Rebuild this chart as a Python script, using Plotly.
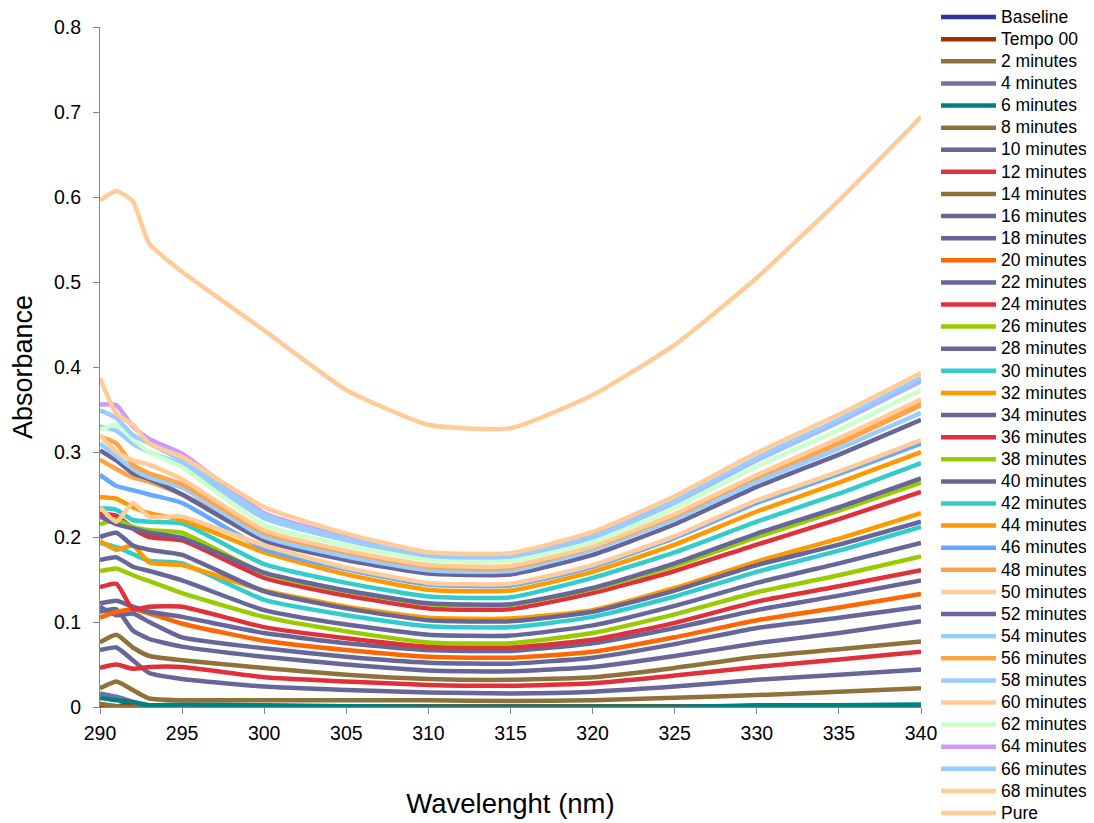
import plotly.graph_objects as go

wavelength = [290, 291, 292, 293, 295, 300, 305, 310, 315, 320, 325, 330, 335, 340]

baseline = [0, 0, 0, 0, 0, 0, 0, 0, 0, 0, 0, 0, 0, 0]
tempo_00 = [0.003, 0.001, 0.004, 0.002, 0.002, 0.001, 0.001, 0.001, 0.001, 0.001, 0.001, 0.001, 0.001, 0.001]
min_02 = [0.004, 0.001, 0.0, 0.002, 0.001, 0.0, 0.0, 0.0, 0.0, 0.0, 0.0, 0.0, 0.0, 0.0]
min_04 = [0.016, 0.012, 0.006, 0.001, 0.0, 0.0, 0.0, 0.0, 0.0, 0.0, 0.0, 0.0, 0.0, 0.0]
min_06 = [0.011, 0.008, 0.006, 0.002, 0.003, 0.002, 0.001, 0.0, 0.0, 0.0, 0.0, 0.002, 0.002, 0.003]
min_08 = [0.022, 0.030, 0.020, 0.010, 0.008, 0.008, 0.008, 0.008, 0.007, 0.008, 0.011, 0.014, 0.018, 0.022]
min_10 = [0.067, 0.070, 0.055, 0.040, 0.033, 0.024, 0.020, 0.017, 0.016, 0.018, 0.024, 0.032, 0.038, 0.044]
min_12 = [0.046, 0.050, 0.045, 0.047, 0.047, 0.035, 0.030, 0.026, 0.025, 0.028, 0.037, 0.047, 0.056, 0.065]
min_14 = [0.076, 0.085, 0.070, 0.060, 0.055, 0.046, 0.038, 0.033, 0.032, 0.035, 0.046, 0.059, 0.068, 0.077]
min_16 = [0.112, 0.115, 0.090, 0.080, 0.071, 0.059, 0.050, 0.043, 0.042, 0.047, 0.060, 0.075, 0.087, 0.101]
min_18 = [0.118, 0.108, 0.110, 0.100, 0.082, 0.069, 0.059, 0.052, 0.051, 0.058, 0.074, 0.093, 0.105, 0.118]
min_20 = [0.105, 0.112, 0.115, 0.110, 0.098, 0.078, 0.067, 0.059, 0.058, 0.065, 0.082, 0.102, 0.117, 0.133]
min_22 = [0.122, 0.125, 0.118, 0.112, 0.106, 0.087, 0.075, 0.067, 0.066, 0.075, 0.093, 0.114, 0.131, 0.149]
min_24 = [0.141, 0.145, 0.115, 0.118, 0.118, 0.094, 0.081, 0.071, 0.070, 0.079, 0.099, 0.124, 0.142, 0.161]
min_26 = [0.160, 0.163, 0.155, 0.148, 0.134, 0.106, 0.089, 0.076, 0.075, 0.087, 0.109, 0.135, 0.155, 0.177]
min_28 = [0.173, 0.176, 0.165, 0.160, 0.149, 0.114, 0.097, 0.085, 0.084, 0.096, 0.119, 0.146, 0.169, 0.193]
min_30 = [0.193, 0.188, 0.180, 0.172, 0.169, 0.126, 0.108, 0.095, 0.094, 0.106, 0.130, 0.159, 0.184, 0.212]
min_32 = [0.195, 0.185, 0.190, 0.170, 0.167, 0.137, 0.118, 0.105, 0.104, 0.114, 0.140, 0.171, 0.198, 0.228]
min_34 = [0.200, 0.205, 0.190, 0.185, 0.179, 0.136, 0.116, 0.102, 0.101, 0.112, 0.137, 0.167, 0.191, 0.218]
min_36 = [0.227, 0.225, 0.210, 0.200, 0.196, 0.152, 0.131, 0.116, 0.115, 0.134, 0.160, 0.191, 0.221, 0.253]
min_38 = [0.215, 0.220, 0.212, 0.208, 0.205, 0.157, 0.136, 0.121, 0.120, 0.139, 0.166, 0.200, 0.231, 0.264]
min_40 = [0.224, 0.215, 0.210, 0.205, 0.199, 0.158, 0.137, 0.122, 0.121, 0.140, 0.169, 0.204, 0.235, 0.269]
min_42 = [0.234, 0.232, 0.220, 0.218, 0.216, 0.168, 0.146, 0.130, 0.129, 0.152, 0.182, 0.218, 0.251, 0.287]
min_44 = [0.247, 0.245, 0.235, 0.228, 0.220, 0.182, 0.156, 0.138, 0.137, 0.159, 0.191, 0.230, 0.264, 0.300]
min_46 = [0.273, 0.260, 0.255, 0.250, 0.240, 0.186, 0.162, 0.144, 0.143, 0.165, 0.199, 0.240, 0.274, 0.310]
min_48 = [0.291, 0.280, 0.270, 0.265, 0.250, 0.203, 0.180, 0.164, 0.163, 0.187, 0.224, 0.269, 0.310, 0.355]
min_50 = [0.235, 0.218, 0.240, 0.224, 0.224, 0.190, 0.164, 0.146, 0.145, 0.167, 0.201, 0.243, 0.277, 0.314]
min_52 = [0.302, 0.290, 0.275, 0.268, 0.250, 0.196, 0.173, 0.157, 0.156, 0.179, 0.215, 0.259, 0.297, 0.338]
min_54 = [0.310, 0.295, 0.280, 0.270, 0.258, 0.200, 0.177, 0.161, 0.160, 0.185, 0.221, 0.265, 0.304, 0.346]
min_56 = [0.318, 0.310, 0.285, 0.275, 0.262, 0.205, 0.182, 0.165, 0.164, 0.188, 0.225, 0.271, 0.312, 0.357]
min_58 = [0.330, 0.325, 0.310, 0.300, 0.285, 0.222, 0.196, 0.177, 0.176, 0.199, 0.240, 0.290, 0.335, 0.383]
min_60 = [0.320, 0.300, 0.290, 0.285, 0.268, 0.208, 0.184, 0.167, 0.166, 0.189, 0.227, 0.273, 0.316, 0.362]
min_62 = [0.326, 0.332, 0.315, 0.300, 0.282, 0.214, 0.190, 0.173, 0.172, 0.194, 0.234, 0.283, 0.326, 0.373]
min_64 = [0.356, 0.355, 0.330, 0.315, 0.298, 0.228, 0.200, 0.179, 0.178, 0.201, 0.242, 0.292, 0.337, 0.385]
min_66 = [0.349, 0.340, 0.320, 0.310, 0.290, 0.226, 0.198, 0.178, 0.177, 0.200, 0.242, 0.293, 0.338, 0.387]
min_68 = [0.387, 0.345, 0.332, 0.310, 0.294, 0.235, 0.204, 0.182, 0.181, 0.206, 0.248, 0.299, 0.344, 0.393]
pure = [0.596, 0.607, 0.595, 0.545, 0.512, 0.443, 0.373, 0.332, 0.328, 0.367, 0.426, 0.505, 0.596, 0.694]

series_names = ["Baseline", "Tempo 00"] + [f"{m} minutes" for m in range(2, 70, 2)] + ["Pure"]
series_values = [baseline, tempo_00, min_02, min_04, min_06, min_08, min_10, min_12, min_14,
                 min_16, min_18, min_20, min_22, min_24, min_26, min_28, min_30, min_32,
                 min_34, min_36, min_38, min_40, min_42, min_44, min_46, min_48, min_50,
                 min_52, min_54, min_56, min_58, min_60, min_62, min_64, min_66, min_68, pure]

GRAY = "#666699"
BROWN = "#8E7239"
RED = "#E0303A"
series_colors = ["#333399", "#993300", BROWN, "#7272A6", "#008080", BROWN, GRAY, RED, BROWN,
                 GRAY, GRAY, "#FF6600", GRAY, RED, "#99CC00", GRAY, "#33CCCC", "#FF9900",
                 GRAY, RED, "#99CC00", GRAY, "#33CCCC", "#FF9900", "#66AAFF", "#FFA347", "#FFCC99",
                 GRAY, "#99CCFF", "#FFA347", "#99CCFF", "#FFCC99", "#CCFFCC", "#CC99FF", "#99CCFF",
                 "#FFCC99", "#FFCC99"]

FONT = "Liberation Sans, Arial, sans-serif"

fig = go.Figure()
for name, vals, col in zip(series_names, series_values, series_colors):
    fig.add_trace(go.Scatter(
        x=wavelength, y=vals, mode="lines", name=f'<span style="font-size:17.5px">{name}</span>',
        line=dict(color=col, width=4.5, shape="spline", smoothing=0.5),
    ))

# the page body has an 8px margin, so the figure is sized to fit the window
fig.update_layout(
    width=1086, height=815,
    margin=dict(l=92, r=173, t=19, b=116, autoexpand=False),
    paper_bgcolor="white", plot_bgcolor="white",
    font=dict(family=FONT, color="black"),
    showlegend=True,
    legend=dict(
        x=1.0183, xanchor="left", y=1.0382, yanchor="top",
        font=dict(family=FONT, size=14.7, color="black"),
        bgcolor="rgba(0,0,0,0)", borderwidth=0,
        itemwidth=55, tracegroupgap=0, maxheight=900,
    ),
    xaxis=dict(
        range=[290, 340], tickmode="linear", tick0=290, dtick=5,
        showgrid=False, zeroline=False, showline=True, linecolor="#868686", linewidth=1,
        ticks="outside", ticklen=6, tickcolor="#868686", ticklabelstandoff=3,
        tickfont=dict(size=19.5, family=FONT, color="black"),
        title=dict(text="Wavelenght (nm)", font=dict(size=27.5, family=FONT, color="black"), standoff=50),
    ),
    yaxis=dict(
        range=[0, 0.8], tickmode="linear", tick0=0, dtick=0.1,
        showgrid=False, zeroline=False, showline=True, linecolor="#868686", linewidth=1,
        ticks="outside", ticklen=6, tickcolor="#868686", ticklabelstandoff=8,
        tickfont=dict(size=19.5, family=FONT, color="black"),
        title=dict(text="Absorbance", font=dict(size=27, family=FONT, color="black"), standoff=18),
    ),
)

fig.write_html("out.html")
